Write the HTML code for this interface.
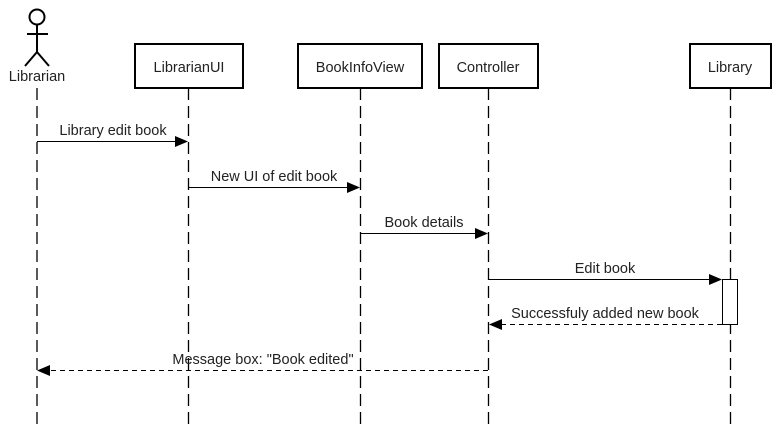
<!DOCTYPE html>
<html><head><style>body{margin:0;background:#fff}svg{display:block}text{font-family:"Liberation Sans",sans-serif;font-size:14.5px;fill:#222}</style></head><body>
<svg width="778" height="427" viewBox="0 0 778 427">
<g stroke="#000" stroke-width="1.3" stroke-dasharray="12,6" fill="none">
<line x1="37" y1="88" x2="37" y2="427"/>
<line x1="188.5" y1="88" x2="188.5" y2="427"/>
<line x1="360.5" y1="88" x2="360.5" y2="427"/>
<line x1="488.5" y1="88" x2="488.5" y2="427"/>
<line x1="730.5" y1="88" x2="730.5" y2="427"/>
</g>
<g stroke="#000" stroke-width="2" fill="none">
<circle cx="37" cy="17" r="7.5"/>
<line x1="37" y1="24.5" x2="37" y2="52"/>
<line x1="27" y1="34" x2="48" y2="34"/>
<line x1="37" y1="52" x2="25" y2="66"/>
<line x1="37" y1="52" x2="49" y2="66"/>
</g>
<text x="37" y="81" text-anchor="middle">Librarian</text>
<g stroke="#000" stroke-width="2" fill="#fff">
<rect x="135" y="44" width="108" height="44"/>
<rect x="298" y="44" width="124" height="44"/>
<rect x="439" y="44" width="99" height="44"/>
<rect x="690" y="44" width="81" height="44"/>
</g>
<g text-anchor="middle">
<text x="189" y="72">LibrarianUI</text>
<text x="360" y="72">BookInfoView</text>
<text x="488" y="72">Controller</text>
<text x="730" y="72">Library</text>
</g>
<rect x="722.5" y="279.5" width="15" height="45" fill="#fff" stroke="#000"/>
<g stroke="#000" fill="none">
<line x1="37" y1="141.5" x2="176" y2="141.5"/>
<line x1="188" y1="187.5" x2="348" y2="187.5"/>
<line x1="360" y1="233.5" x2="476" y2="233.5"/>
<line x1="488" y1="279.5" x2="710" y2="279.5"/>
<line x1="722" y1="324.5" x2="501" y2="324.5" stroke-dasharray="5,4"/>
<line x1="488" y1="370.5" x2="50" y2="370.5" stroke-dasharray="5,4"/>
</g>
<g fill="#000">
<polygon points="188,141.5 175,136 175,147"/>
<polygon points="360,187.5 347,182 347,193"/>
<polygon points="488,233.5 475,228 475,239"/>
<polygon points="722,279.5 709,274 709,285"/>
<polygon points="489,324.5 502,319 502,330"/>
<polygon points="37,370.5 50,365 50,376"/>
</g>
<g text-anchor="middle">
<text x="113" y="135">Library edit book</text>
<text x="274" y="181">New UI of edit book</text>
<text x="424" y="227">Book details</text>
<text x="605" y="273">Edit book</text>
<text x="605" y="318">Successfuly added new book</text>
<text x="263" y="364">Message box: "Book edited"</text>
</g>
</svg>
</body></html>
